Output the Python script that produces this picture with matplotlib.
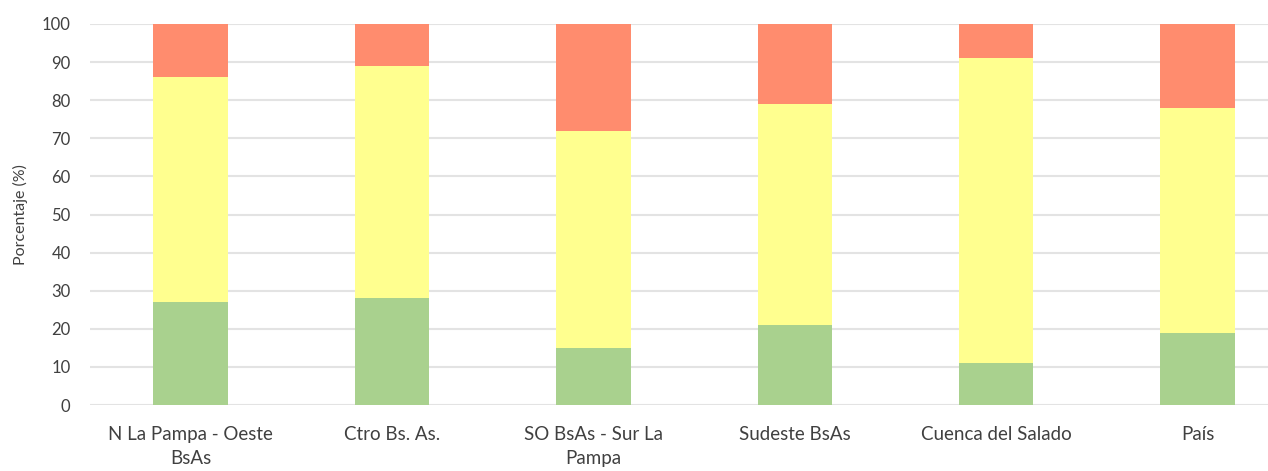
import matplotlib
matplotlib.use("Agg")
import matplotlib.pyplot as plt
import numpy as np

categories = ["N La Pampa - Oeste\nBsAs", "Ctro Bs. As.", "SO BsAs - Sur La\nPampa",
              "Sudeste BsAs", "Cuenca del Salado", "País"]
green = [27, 28, 15, 21, 11, 19]
yellow = [59, 61, 57, 58, 80, 59]
red = [14, 11, 28, 21, 9, 22]

plt.rcParams['font.family'] = ['Lato', 'DejaVu Sans']

fig = plt.figure(figsize=(12.68, 4.71), dpi=100)
ax = fig.add_axes([90/1268, 1-405/471, 1-90/1268, (405-24)/471])

x = np.arange(len(categories))
w = 0.37
g = np.array(green); yv = np.array(yellow); r = np.array(red)
ax.bar(x, g, w, color="#A9D18E", zorder=3)
ax.bar(x, yv, w, bottom=g, color="#FFFF8F", zorder=3)
ax.bar(x, r, w, bottom=g + yv, color="#FF8C6E", zorder=3)

ax.set_ylim(0, 100)
ax.set_xlim(-0.5, 5.35)
ax.set_yticks(range(0, 101, 10))
ax.yaxis.grid(True, color="#E3E3E3", linewidth=1.5, zorder=0)
ax.set_axisbelow(True)
for s in ax.spines.values():
    s.set_visible(False)
ax.tick_params(length=0, colors="#404040")
ax.tick_params(axis='y', pad=14, labelsize=12)
ax.tick_params(axis='x', pad=15, labelsize=13.5)
ax.set_xticks(x)
ax.set_xticklabels(categories, linespacing=1.5)
ax.set_ylabel("Porcentaje (%)", color="#404040", fontsize=11.5, labelpad=10)

fig.savefig("out.png", dpi=100)
